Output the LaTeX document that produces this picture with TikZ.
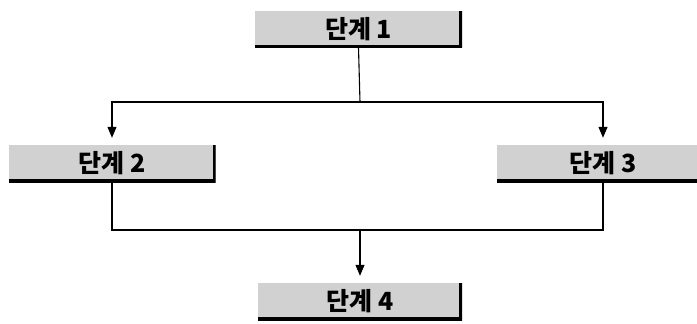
\documentclass[tikz,border=0pt]{standalone}
\usepackage{fontspec}
\newfontfamily\korfont{Noto Sans CJK KR}
\usetikzlibrary{arrows.meta,positioning,calc}

\begin{document}
\begin{tikzpicture}[
  x=1pt, y=-1pt,
  stepbox/.style={
    rectangle, fill=black!18, inner sep=0pt,
    minimum width=207pt, minimum height=37pt,
    text centered, font=\fontsize{25}{28}\korfont\bfseries\selectfont,
    path picture={
      \draw[line width=6pt, black]
        (path picture bounding box.south west) --
        (path picture bounding box.south east) --
        (path picture bounding box.north east);
    }
  },
  link/.style={line width=1.1pt, black},
  flow/.style={
    -{Triangle[width=9pt,length=11pt]},
    line width=1.1pt, black, shorten >=7pt
  }
]
\useasboundingbox (0,0) rectangle (697,324);

% ==================== STEPS ====================

\node (s1) [stepbox] at (358.5, 29) {단계 1};
\node (s2) [stepbox] at (112, 163.5) {단계 2};
\node (s3) [stepbox, minimum width=212pt] at (603, 163.5) {단계 3};
\node (s4) [stepbox, minimum width=204pt] at (360, 301.5) {단계 4};

% ==================== CONNECTORS ====================

\coordinate (split) at (360, 102);
\coordinate (merge) at (360, 230);

% 1 -> 2, 3
\draw [link] (s1.south) -- (split);
\draw [flow] (split) -| (s2.north);
\draw [flow] (split) -| (s3.north);

% 2, 3 -> 4
\draw [link] (s2.south) |- (merge) -| (s3.south);
\draw [flow] (merge) -- (s4.north);

\end{tikzpicture}
\end{document}
